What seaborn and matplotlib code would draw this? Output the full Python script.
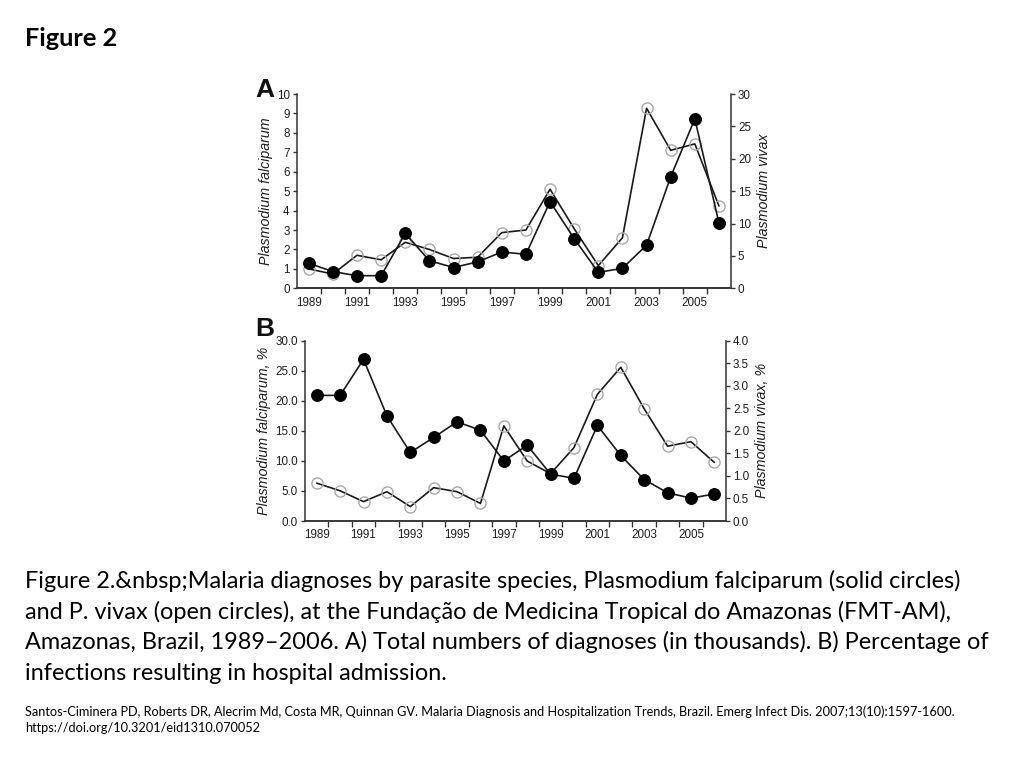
import matplotlib
matplotlib.use("Agg")
import matplotlib.pyplot as plt
import seaborn as sns

years = list(range(1989, 2007))

# Panel A: total diagnoses (thousands)
a_falciparum = [1.29, 0.86, 0.65, 0.65, 2.83, 1.42, 1.07, 1.36, 1.87, 1.75,
                4.46, 2.56, 0.82, 1.03, 2.22, 5.74, 8.72, 3.36]
a_vivax = [3.0, 2.2, 5.1, 4.4, 7.1, 6.0, 4.6, 4.8, 8.6, 9.0,
           15.3, 9.2, 3.5, 7.8, 27.8, 21.3, 22.3, 12.7]

# Panel B: % hospital admission
b_falciparum = [20.9, 20.9, 26.9, 17.5, 11.4, 13.9, 16.5, 15.1, 10.0, 12.6,
                7.8, 7.1, 15.9, 10.9, 6.9, 4.7, 3.8, 4.5]
b_vivax = [0.84, 0.67, 0.43, 0.65, 0.32, 0.74, 0.65, 0.39, 2.11, 1.33,
           1.05, 1.63, 2.81, 3.41, 2.49, 1.66, 1.76, 1.30]

year_labels = [str(y) for y in range(1989, 2006, 2)]

sns.set_style("ticks")
plt.rcParams["font.family"] = ["Liberation Sans", "DejaVu Sans"]

fig = plt.figure(figsize=(10.24, 7.68), dpi=100)
fig.patch.set_facecolor("white")

line_c = "#1a1a1a"
axis_c = "#333333"
open_c = "#a8a8a8"


def style_panel(ax, ax2, ylim_l, yt_l, fmt_l, ylim_r, yt_r, fmt_r, lab_l, lab_r):
    ax.set_xlim(1988.5, 2006.5)
    ax.set_ylim(*ylim_l)
    ax2.set_ylim(*ylim_r)
    ax.set_xticks(range(1989, 2006, 2))
    ax.set_xticklabels(year_labels)
    ax.set_xticks([y + 0.5 for y in range(1989, 2006)], minor=True)
    ax.tick_params(axis="x", which="major", length=0, pad=6)
    ax.tick_params(axis="x", which="minor", length=4, width=1, color=axis_c)
    ax.set_yticks(yt_l)
    ax.set_yticklabels([fmt_l.format(v) for v in yt_l])
    ax2.set_yticks(yt_r)
    ax2.set_yticklabels([fmt_r.format(v) for v in yt_r])
    for a in (ax, ax2):
        a.tick_params(axis="y", length=3, width=1, color=axis_c, labelsize=8.4,
                      labelcolor="#1e1e1e", pad=2)
        a.tick_params(axis="x", labelsize=8.4, labelcolor="#1e1e1e")
        a.spines["top"].set_visible(False)
        for s in ("left", "right", "bottom"):
            a.spines[s].set_color(axis_c)
            a.spines[s].set_linewidth(1.1)
    ax.spines["right"].set_visible(False)
    ax2.spines["left"].set_visible(False)
    ax.set_xlabel("")
    ax.set_ylabel(lab_l, fontstyle="italic", fontsize=10.3, color="#1e1e1e", labelpad=3)
    ax2.set_ylabel(lab_r, fontstyle="italic", fontsize=10.3, color="#1e1e1e", labelpad=4)
    ax.set_zorder(ax2.get_zorder() + 1)
    ax.patch.set_visible(False)


def draw(ax, ax2, falc, viv):
    sns.lineplot(x=years, y=viv, ax=ax2, color=line_c, lw=1.2, marker="o",
                 markersize=8, markerfacecolor="none", markeredgecolor=open_c,
                 markeredgewidth=1.0)
    sns.lineplot(x=years, y=falc, ax=ax, color=line_c, lw=1.2, marker="o",
                 markersize=8.5, markerfacecolor="black", markeredgecolor="black")


axA = fig.add_axes([0.2897, 0.6246, 0.4242, 0.2530])
axA2 = axA.twinx()
draw(axA, axA2, a_falciparum, a_vivax)
style_panel(axA, axA2, (0, 10), list(range(0, 11)), "{:d}",
            (0, 30), list(range(0, 31, 5)), "{:d}",
            "Plasmodium falciparum", "Plasmodium vivax")

axB = fig.add_axes([0.2979, 0.3216, 0.4111, 0.2348])
axB2 = axB.twinx()
draw(axB, axB2, b_falciparum, b_vivax)
style_panel(axB, axB2, (0, 30), [0, 5, 10, 15, 20, 25, 30], "{:.1f}",
            (0, 4), [0, 0.5, 1, 1.5, 2, 2.5, 3, 3.5, 4], "{:.1f}",
            "Plasmodium falciparum, %", "Plasmodium vivax, %")

fig.text(255 / 1024, 1 - 97 / 768, "A", fontsize=19, fontweight="black", color="#111111")
fig.text(255 / 1024, 1 - 336 / 768, "B", fontsize=19, fontweight="black", color="#111111")

cap_font = ["Lato", "DejaVu Sans"]
fig.text(25 / 1024, 1 - 46 / 768, "Figure 2", fontsize=18.3, fontweight="bold",
         family=cap_font, color="black")

caption = [
    "Figure 2.&nbsp;Malaria diagnoses by parasite species, Plasmodium falciparum (solid circles)",
    "and P. vivax (open circles), at the Fundação de Medicina Tropical do Amazonas (FMT-AM),",
    "Amazonas, Brazil, 1989–2006. A) Total numbers of diagnoses (in thousands). B) Percentage of",
    "infections resulting in hospital admission.",
]
for i, line in enumerate(caption):
    fig.text(25 / 1024, 1 - (588 + i * 30.7) / 768, line, fontsize=16.9,
             family=cap_font, color="black")

cite = [
    "Santos-Ciminera PD, Roberts DR, Alecrim Md, Costa MR, Quinnan GV. Malaria Diagnosis and Hospitalization Trends, Brazil. Emerg Infect Dis. 2007;13(10):1597-1600.",
    "https://doi.org/10.3201/eid1310.070052",
]
for i, line in enumerate(cite):
    fig.text(25 / 1024, 1 - (716 + i * 16.5) / 768, line, fontsize=9.2,
             family=cap_font, color="black")

fig.savefig("out.png", dpi=100)
